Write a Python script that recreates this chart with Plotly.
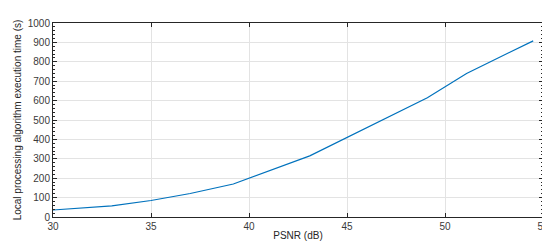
import plotly.graph_objects as go

# PSNR (dB) vs. local processing execution time (s)
psnr = [30.0, 31.5, 33.0, 35.0, 37.0, 39.2, 43.1, 49.1, 51.1, 54.5]
exec_time = [36, 45, 57, 85, 121, 170, 315, 615, 740, 908]

x_ticks = [30, 35, 40, 45, 50, 55]
y_ticks = [0, 100, 200, 300, 400, 500, 600, 700, 800, 900, 1000]

fig = go.Figure()
fig.add_trace(go.Scatter(
    x=psnr,
    y=exec_time,
    mode="lines",
    line=dict(color="#0072BD", width=1.2),
    showlegend=False,
))

axis_style = dict(
    showline=True,
    linecolor="#262626",
    linewidth=1,
    mirror="ticks",
    ticks="inside",
    ticklen=4,
    tickcolor="#262626",
    showgrid=True,
    gridcolor="#e3e3e3",
    gridwidth=1,
    zeroline=False,
    tickfont=dict(size=10, color="#3a3a3a"),
)

fig.update_xaxes(
    range=[30, 55],
    tickvals=x_ticks,
    title=dict(text="PSNR (dB)", font=dict(size=10, color="#262626"), standoff=0),
    **axis_style,
)
fig.update_yaxes(
    range=[0, 1000],
    tickvals=y_ticks,
    minor=dict(ticks="inside", ticklen=2, dtick=20, tickcolor="#262626", showgrid=False),
    title=dict(text="Local processing algorithm execution time (s)",
               font=dict(size=10, color="#262626"), standoff=4),
    **axis_style,
)

fig.update_layout(
    width=550,
    height=241,
    margin=dict(l=44, r=12, t=9, b=32),
    paper_bgcolor="white",
    plot_bgcolor="white",
    font=dict(family="Liberation Sans, Arial, sans-serif", size=10, color="#262626"),
)

fig.write_html("out.html")
